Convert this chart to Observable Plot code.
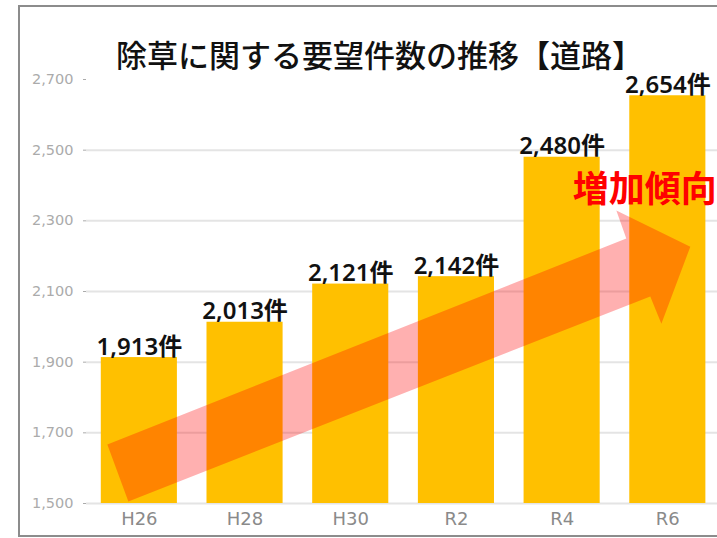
<!DOCTYPE html>
<html>
<head>
<meta charset="utf-8">
<script src="https://cdn.jsdelivr.net/npm/d3@7"></script>
<script src="https://cdn.jsdelivr.net/npm/@observablehq/plot@0.6"></script>
<style>
  html, body { margin: 0; padding: 0; background: #fff; }
  #wrap { position: relative; width: 717px; height: 538px; overflow: hidden; background: #fff; }
  #frame { position: absolute; left: 18px; top: 5px; width: 740px; height: 528px; border: 2px solid #8c8c8c; }
  #chart { position: absolute; left: 0; top: 0; }
  #title { position: absolute; left: 116px; top: 39px; font-family: "Noto Sans CJK JP", sans-serif; font-size: 31px; line-height: 30px; font-weight: 500; color: #111; white-space: nowrap; }
</style>
</head>
<body>
<div id="wrap">
  <div id="frame"></div>
  <div id="chart"></div>
  <div id="title">除草に関する要望件数の推移【道路】</div>
</div>
<script>
const categories = ["H26", "H28", "H30", "R2", "R4", "R6"];
const values = [1913, 2013, 2121, 2142, 2480, 2654];
const yTicks = [1500, 1700, 1900, 2100, 2300, 2500, 2700];
const gridTicks = [1500, 1700, 1900, 2100, 2300, 2500];
const unit = "件";
const trendLabel = "増加傾向";
// arrow annotation outline in data coordinates (category index, count)
const arrowX = [-0.303, 4.607, 4.513, 5.213, 4.939, 4.834, -0.104];
const arrowY = [1667, 2250, 2329, 2227, 2009, 2086, 1506];
const trendPos = { x: 4.1, y: 2386 };

const bars = categories.map((c, i) => ({ i, c, v: values[i] }));
const arrow = arrowX.map((x, k) => ({ x, y: arrowY[k] }));
const fmt = d3.format(",");

const chart = Plot.plot({
  width: 717,
  height: 538,
  marginLeft: 86,
  marginRight: 0,
  marginTop: 79,
  marginBottom: 35,
  style: { fontFamily: "'Noto Sans CJK JP', sans-serif", background: "transparent" },
  x: { type: "linear", domain: [-0.5, 5.47] },
  y: { type: "linear", domain: [1500, 2700] },
  marks: [
    Plot.ruleY(gridTicks, { stroke: "#e4e4e4", strokeWidth: 2 }),
    Plot.axisY({ ticks: yTicks, tickFormat: fmt, tickSize: 3, tickPadding: 10, fontSize: 14.5, fontFamily: "'DejaVu Sans', sans-serif", color: "#ababab", label: null }),
    Plot.axisX({ ticks: d3.range(categories.length), tickFormat: i => categories[i], tickSize: 0, tickPadding: 9, fontSize: 18, fontFamily: "'DejaVu Sans', sans-serif", color: "#8a8a8a", label: null }),
    Plot.rect(bars, { x1: d => d.i - 0.36, x2: d => d.i + 0.36, y1: () => 1500, y2: "v", fill: "#FFC000" }),
    Plot.line(arrow, { x: "x", y: "y", curve: "linear-closed", fill: "#ff0000", fillOpacity: 0.31, stroke: "none" }),
    Plot.text(bars, { x: "i", y: "v", text: d => fmt(d.v) + unit, lineAnchor: "bottom", dy: -3, fontSize: 24, fontWeight: 600, fontFamily: "'Noto Sans', 'Noto Sans CJK JP', sans-serif", fill: "#111" }),
    Plot.text([trendPos], { x: "x", y: "y", text: () => trendLabel, textAnchor: "start", fontSize: 36, fontWeight: "bold", fill: "#ff0000" })
  ]
});
document.getElementById("chart").appendChild(chart);
</script>
</body>
</html>
